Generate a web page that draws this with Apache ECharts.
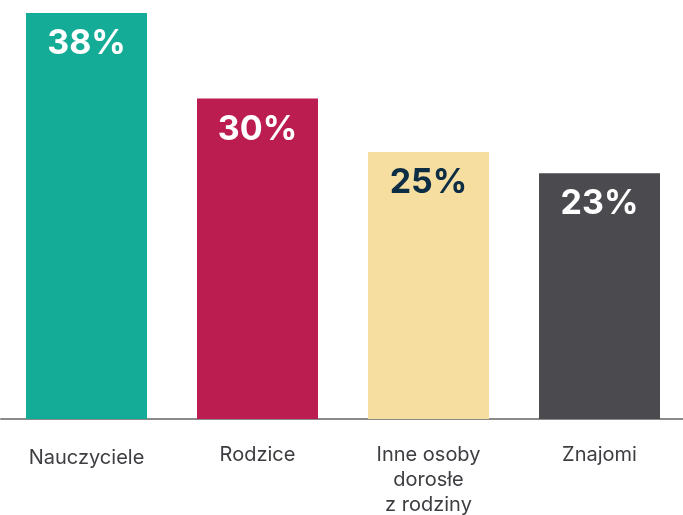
<!DOCTYPE html>
<html><head><meta charset="utf-8">
<script src="https://cdn.jsdelivr.net/npm/echarts@6/dist/echarts.min.js"></script>
<style>html,body{margin:0;padding:0;background:#fff}#c{width:683px;height:515px}</style>
</head><body><div id="c"></div>
<script>
const categories = ['Nauczyciele', 'Rodzice', 'Inne osoby\ndorosłe\nz rodziny', 'Znajomi'];
const values = [38, 30, 25, 23];
const barColors = ['#14ac97', '#bc1d50', '#f6dea0', '#4a4a4f'];
const labelColors = ['#ffffff', '#ffffff', '#0d2d45', '#ffffff'];

const chart = echarts.init(document.getElementById('c'));
chart.setOption({
  animation: false,
  grid: { left: 1, width: 684, top: 13, bottom: 96, containLabel: false, outerBoundsMode: 'none' },
  xAxis: {
    type: 'category',
    data: categories.map((c, i) => i === 0 ? { value: c, textStyle: { padding: [3, 0, 0, 0] } } : c),
    axisLine: { lineStyle: { color: '#8a8a8a', width: 2 } },
    axisTick: { show: false },
    axisLabel: { interval: 0, margin: 23, fontFamily: 'Inter', fontSize: 20, color: '#3d3d42', lineHeight: 25 }
  },
  yAxis: { type: 'value', min: 0, max: 38, show: false, splitLine: { show: false } },
  series: [{
    type: 'bar',
    barWidth: 121,
    data: values.map((v, i) => ({ value: v, itemStyle: { color: barColors[i] }, label: { color: labelColors[i] } })),
    label: {
      show: true, position: 'insideTop', distance: 14,
      formatter: '{c}%', fontFamily: 'Inter', fontWeight: 'bold', fontSize: 34
    }
  }]
});
</script></body></html>
